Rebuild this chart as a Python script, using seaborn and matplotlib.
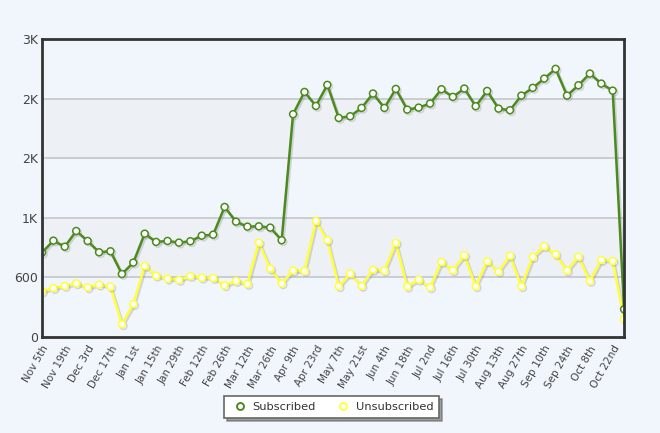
import numpy as np
import pandas as pd
import matplotlib
matplotlib.use("Agg")
import matplotlib.pyplot as plt
import matplotlib.patheffects as pe
from matplotlib.lines import Line2D
import seaborn as sns

# weekly data, Nov 5th .. Oct 29th
weeks = ["Nov 5th", "Nov 12th", "Nov 19th", "Nov 26th", "Dec 3rd", "Dec 10th", "Dec 17th", "Dec 24th",
         "Jan 1st", "Jan 8th", "Jan 15th", "Jan 22nd", "Jan 29th", "Feb 5th", "Feb 12th", "Feb 19th",
         "Feb 26th", "Mar 5th", "Mar 12th", "Mar 19th", "Mar 26th", "Apr 2nd", "Apr 9th", "Apr 16th",
         "Apr 23rd", "Apr 30th", "May 7th", "May 14th", "May 21st", "May 28th", "Jun 4th", "Jun 11th",
         "Jun 18th", "Jun 25th", "Jul 2nd", "Jul 9th", "Jul 16th", "Jul 23rd", "Jul 30th", "Aug 6th",
         "Aug 13th", "Aug 20th", "Aug 27th", "Sep 3rd", "Sep 10th", "Sep 17th", "Sep 24th", "Oct 1st",
         "Oct 8th", "Oct 15th", "Oct 22nd", "Oct 29th"]

subscribed = [849, 970, 909, 1067, 967, 853, 863, 634, 749, 1040, 957, 967, 950, 964, 1020, 1030,
              1309, 1161, 1111, 1114, 1101, 974, 2243, 2467, 2326, 2538, 2205, 2222, 2306, 2451,
              2306, 2497, 2289, 2309, 2350, 2494, 2417, 2501, 2323, 2477, 2299, 2283, 2430, 2508,
              2601, 2699, 2430, 2534, 2652, 2551, 2480, 279]

unsubscribed = [460, 493, 514, 540, 500, 527, 507, 128, 332, 715, 617, 587, 574, 614, 597, 594,
                520, 564, 534, 950, 688, 540, 668, 664, 1168, 974, 510, 638, 514, 678, 668, 947,
                507, 577, 500, 755, 671, 822, 510, 762, 658, 819, 510, 806, 913, 833, 668, 809,
                564, 775, 765, 178]

y_ticks = [0, 600, 1200, 1800, 2400, 3000]
y_labels = ["0", "600", "1K", "2K", "2K", "3K"]

green = "#4b8a1c"
yellow = "#ffff3c"
bg = "#f1f6fc"

df = pd.DataFrame({"week": np.arange(len(weeks)), "Subscribed": subscribed, "Unsubscribed": unsubscribed})

sns.set_style("white")
plt.rcParams['font.family'] = ['DejaVu Sans']

fig = plt.figure(figsize=(6.6, 4.33), dpi=100, facecolor=bg)
ax = fig.add_axes([0.0636, 0.2217, 0.882, 0.6883])
ax.set_facecolor(bg)

# alternate bands
ax.axhspan(600, 1200, color="#edf1f5", zorder=0)
ax.axhspan(1800, 2400, color="#edf1f5", zorder=0)
for yv in y_ticks[1:-1]:
    ax.axhline(yv, color="#c4c8cc", lw=1.2, zorder=1)

line_fx = [pe.SimpleLineShadow(offset=(1.2, -1.2), shadow_color="#888888", alpha=0.3), pe.Normal()]

sns.lineplot(data=df, x="week", y="Subscribed", ax=ax, color=green, lw=1.8, marker="o",
             markersize=5, markerfacecolor="white", markeredgecolor=green, markeredgewidth=1.1,
             path_effects=line_fx, zorder=4)
sns.lineplot(data=df, x="week", y="Unsubscribed", ax=ax, color=yellow, lw=1.8, marker="o",
             markersize=5, markerfacecolor="white", markeredgecolor=yellow, markeredgewidth=1.1,
             path_effects=line_fx, zorder=3)

ax.set_xlim(0, len(weeks) - 1)
ax.set_ylim(0, 3000)
ax.set_yticks(y_ticks)
ax.set_yticklabels(y_labels, fontsize=9)
ax.set_xticks(df["week"][::2])
ax.set_xticklabels(weeks[::2], rotation=60, ha="right", rotation_mode="anchor", fontsize=7.5)
ax.tick_params(axis="both", colors="#444444", length=0, pad=3)
ax.tick_params(axis="x", pad=5)
ax.set_xlabel("")
ax.set_ylabel("")
for sp in ax.spines.values():
    sp.set_color("#333333")
    sp.set_linewidth(2)
    sp.set_zorder(6)

handles = [Line2D([], [], ls="none", marker="o", markersize=5, markerfacecolor="white",
                  markeredgecolor=green, markeredgewidth=1.4),
           Line2D([], [], ls="none", marker="o", markersize=5, markerfacecolor="white",
                  markeredgecolor=yellow, markeredgewidth=1.4)]
leg = fig.legend(handles, ["Subscribed", "Unsubscribed"], loc="center", bbox_to_anchor=(0.503, 0.06),
                 ncol=2, fontsize=8.2, frameon=True, fancybox=False, shadow=True,
                 handletextpad=0.3, columnspacing=1.6, borderpad=0.55, handlelength=1.6,
                 labelcolor="#333333")
leg.get_frame().set_edgecolor("#666666")
leg.get_frame().set_linewidth(1.2)

fig.savefig("out.png", dpi=100, facecolor=bg)
